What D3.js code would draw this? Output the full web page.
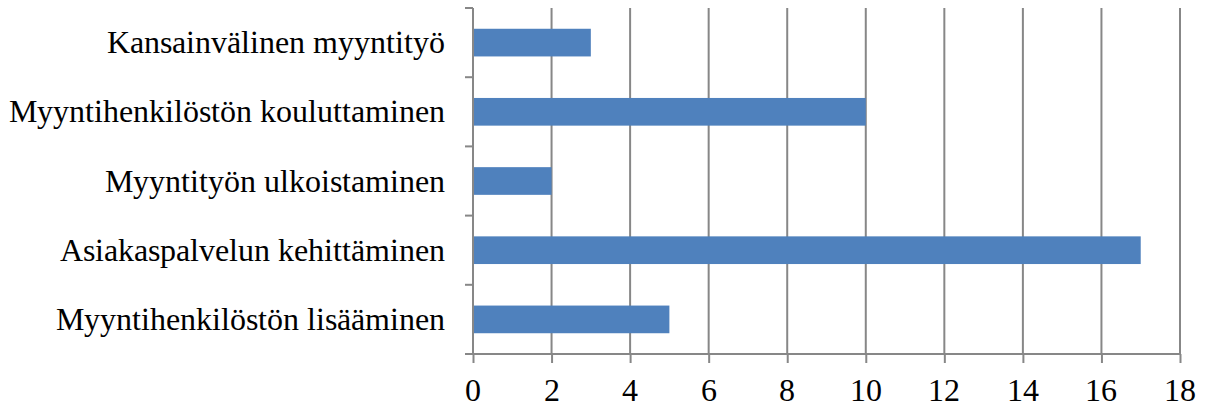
<!DOCTYPE html>
<html>
<head>
<meta charset="utf-8">
<script src="https://cdn.jsdelivr.net/npm/d3@7"></script>
<style>
  @font-face {
    font-family: "ChartSerif";
    src: local("Liberation Serif"), local("LiberationSerif"), local("LiberationSerif-Regular"), local("Tinos"), local("Times New Roman");
  }
  body { margin: 0; }
</style>
</head>
<body>
<svg id="chart" width="1213" height="409"></svg>
<script>
"use strict";

// categories top to bottom and their counts
let categories = [
  "Kansainvälinen myyntityö",
  "Myyntihenkilöstön kouluttaminen",
  "Myyntityön ulkoistaminen",
  "Asiakaspalvelun kehittäminen",
  "Myyntihenkilöstön lisääminen"
];
let values = [3, 10, 2, 17, 5];
let xTicks = [0, 2, 4, 6, 8, 10, 12, 14, 16, 18];

let fontName = "ChartSerif, 'Liberation Serif', Tinos, 'Times New Roman'";

let svg = d3.select("#chart");

// scales
let xScale = d3.scaleLinear()
  .domain([0, 18])
  .range([473, 1180]);

let yScale = d3.scaleBand()
  .domain(categories)
  .range([8, 354])
  .paddingInner(0.6)
  .paddingOuter(0.3);

let gridColor = "#878787";

// vertical gridlines
svg.selectAll("line.grid")
  .data(xTicks.slice(1))
  .join("line")
  .attr("class", "grid")
  .attr("x1", d => xScale(d))
  .attr("x2", d => xScale(d))
  .attr("y1", 8)
  .attr("y2", 354)
  .attr("stroke", gridColor)
  .attr("stroke-width", 2);

// bars
svg.selectAll("rect")
  .data(values)
  .join("rect")
  .attr("x", xScale(0))
  .attr("y", (d, i) => yScale(categories[i]))
  .attr("width", d => xScale(d) - xScale(0))
  .attr("height", yScale.bandwidth())
  .attr("fill", "#4f81bd");

// x axis (lines only; labels drawn below)
let xAxis = svg.append("g")
  .attr("transform", "translate(0,354)")
  .call(d3.axisBottom(xScale).tickValues(xTicks).tickSize(9).tickFormat(""));
xAxis.attr("font-family", null);
xAxis.select(".domain").attr("stroke", gridColor).attr("stroke-width", 2)
  .attr("d", "M" + (xScale(0) - 8) + ",0H" + xScale(18));
xAxis.selectAll(".tick line").attr("stroke", gridColor).attr("stroke-width", 2);

svg.selectAll("text.xlab")
  .data(xTicks)
  .join("text")
  .attr("class", "xlab")
  .attr("x", d => xScale(d))
  .attr("y", 401)
  .attr("text-anchor", "middle")
  .style("font-family", fontName)
  .style("font-size", "32px")
  .attr("fill", "#000")
  .text(d => d);

// y axis line
svg.append("line")
  .attr("x1", xScale(0))
  .attr("x2", xScale(0))
  .attr("y1", 8)
  .attr("y2", 354)
  .attr("stroke", gridColor)
  .attr("stroke-width", 2);

// y tick marks at category boundaries
let gap = (yScale.step() - yScale.bandwidth()) / 2;
let bounds = categories.map(c => yScale(c) - gap).concat([yScale.range()[1]]);
svg.selectAll("line.ytick")
  .data(bounds)
  .join("line")
  .attr("class", "ytick")
  .attr("x1", xScale(0) - 8)
  .attr("x2", xScale(0))
  .attr("y1", d => d)
  .attr("y2", d => d)
  .attr("stroke", gridColor)
  .attr("stroke-width", 2);

// category labels
svg.selectAll("text.cat")
  .data(categories)
  .join("text")
  .attr("class", "cat")
  .attr("x", 445)
  .attr("y", d => yScale(d) + yScale.bandwidth() / 2)
  .attr("dy", "0.33em")
  .attr("text-anchor", "end")
  .style("font-family", fontName)
  .style("font-size", "32px")
  .attr("fill", "#000")
  .text(d => d);
</script>
</body>
</html>
